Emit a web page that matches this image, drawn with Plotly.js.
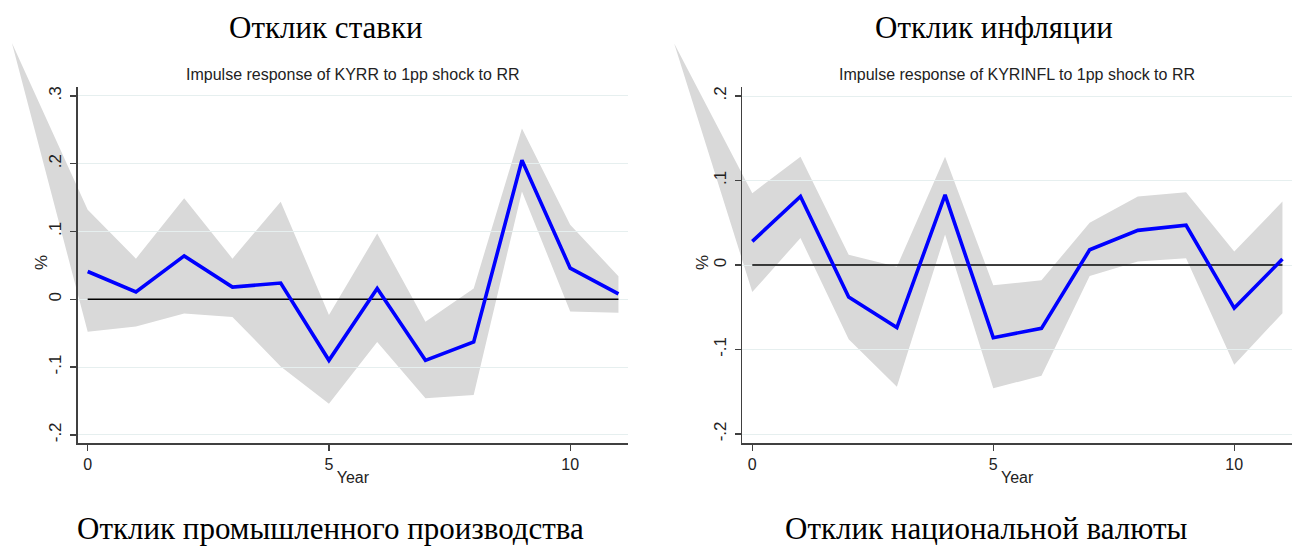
<!DOCTYPE html>
<html>
<head>
<meta charset="utf-8">
<script src="https://cdn.plot.ly/plotly-3.0.1.min.js"></script>
<style>html,body{margin:0;padding:0;background:#fff;}#chart{width:1296px;height:547px;}</style>
</head>
<body>
<div id="chart"></div>
<script>
// ---- data ----
const periods = [0,1,2,3,4,5,6,7,8,9,10,11];

const rrIrf   = [0.041,0.011,0.064,0.018,0.024,-0.090,0.016,-0.090,-0.063,0.205,0.046,0.008];
const rrUpper = [0.132,0.060,0.149,0.060,0.144,-0.023,0.097,-0.033,0.016,0.252,0.110,0.034];
const rrLower = [-0.048,-0.040,-0.021,-0.026,-0.099,-0.154,-0.063,-0.146,-0.141,0.159,-0.018,-0.020];
// stray vertex of the confidence polygon seen in the picture
const rrStrayX = -1.57, rrStrayY = 0.378;

const inflIrf   = [0.028,0.081,-0.038,-0.074,0.083,-0.086,-0.075,0.018,0.041,0.047,-0.051,0.007];
const inflUpper = [0.085,0.128,0.012,-0.002,0.128,-0.024,-0.018,0.050,0.081,0.086,0.016,0.075];
const inflLower = [-0.032,0.032,-0.088,-0.144,0.036,-0.146,-0.131,-0.013,0.004,0.008,-0.118,-0.057];
const inflStrayX = -1.62, inflStrayY = 0.262;

const xTickVals = [0,5,10];
const rrTickVals = [-0.2,-0.1,0,0.1,0.2,0.3];
const rrTickText = ['-.2','-.1','0','.1','.2','.3'];
const inflTickVals = [-0.2,-0.1,0,0.1,0.2];
const inflTickText = ['-.2','-.1','0','.1','.2'];

const panelTitles = ['Отклик ставки','Отклик инфляции'];
const bottomTitles = ['Отклик промышленного производства','Отклик национальной валюты'];
const subTitles = ['Impulse response of KYRR to 1pp shock to RR','Impulse response of KYRINFL to 1pp shock to RR'];

// ---- geometry ----
const W = 1296, H = 547;
const fx = p => p / W, fy = p => 1 - p / H;
const xRange = [-0.207, 11.198];
const rrRange = [-0.2124, 0.3136];
const inflRange = [-0.211, 0.211];
const plotTop = 86.7, plotBot = 443.3;
const leftPlot = [77.7, 628], rightPlot = [742.3, 1292];
const bandLeftStart = [0, 648];

function extRange(range, pxSpan, extLow, extHigh) {
  const per = (pxSpan[1] - pxSpan[0]) / (range[1] - range[0]);
  return [range[0] - extLow / per, range[1] + extHigh / per];
}

const sans = 'Liberation Sans, Arial, sans-serif';
const serif = 'Liberation Serif, Times New Roman, serif';
const axisCol = '#404040';
const bandCol = 'rgb(217,217,217)';

function bandPoly(upper, lower, sx, sy) {
  const xs = periods.concat(periods.slice().reverse(), [sx]);
  const ys = upper.concat(lower.slice().reverse(), [sy]);
  return {xs, ys};
}
const b1 = bandPoly(rrUpper, rrLower, rrStrayX, rrStrayY);
const b2 = bandPoly(inflUpper, inflLower, inflStrayX, inflStrayY);

const traces = [
  {x: b1.xs, y: b1.ys, xaxis:'x', yaxis:'y', type:'scatter', mode:'lines', fill:'toself',
   fillcolor: bandCol, line:{width:0, color: bandCol}, hoverinfo:'skip', showlegend:false},
  {x: [periods[0], periods[periods.length-1]], y:[0,0], xaxis:'x2', yaxis:'y2', mode:'lines',
   line:{color:'#000', width:1.6}, showlegend:false},
  {x: periods, y: rrIrf, xaxis:'x2', yaxis:'y2', mode:'lines',
   line:{color:'#0000ff', width:3.6}, showlegend:false},
  {x: b2.xs, y: b2.ys, xaxis:'x3', yaxis:'y3', type:'scatter', mode:'lines', fill:'toself',
   fillcolor: bandCol, line:{width:0, color: bandCol}, hoverinfo:'skip', showlegend:false},
  {x: [periods[0], periods[periods.length-1]], y:[0,0], xaxis:'x4', yaxis:'y4', mode:'lines',
   line:{color:'#000', width:1.6}, showlegend:false},
  {x: periods, y: inflIrf, xaxis:'x4', yaxis:'y4', mode:'lines',
   line:{color:'#0000ff', width:3.6}, showlegend:false}
];

function mainX(dom) {
  return {domain:[fx(dom[0]), fx(dom[1])], range:xRange, tickvals:xTickVals, ticks:'outside',
    ticklen:6, tickcolor:axisCol, tickwidth:1.3, showline:true, linecolor:axisCol, linewidth:1.5,
    showgrid:false, zeroline:false, tickfont:{family:sans, size:16, color:'#222'},
    title:{text:'Year', font:{family:sans, size:16, color:'#222'}, standoff:0}};
}
function mainY(range, vals, text, anchor) {
  return {domain:[fy(plotBot), fy(plotTop)], range:range, tickvals:vals, ticktext:text,
    ticks:'outside', ticklen:6, tickcolor:axisCol, tickwidth:1.3, tickangle:-90, ticklabelstandoff:2,
    showline:true, linecolor:axisCol, linewidth:1.5, showgrid:true, gridcolor:'#e6efef', gridwidth:1,
    zeroline:false, tickfont:{family:sans, size:17, color:'#222'}, anchor:anchor};
}

const layout = {
  width: W, height: H, margin:{l:0,r:0,t:0,b:0},
  paper_bgcolor:'#fff', plot_bgcolor:'rgba(0,0,0,0)', showlegend:false,
  xaxis: {visible:false, domain:[fx(bandLeftStart[0]), fx(leftPlot[1])],
          range: extRange(xRange, leftPlot, leftPlot[0]-bandLeftStart[0], 0), anchor:'y'},
  yaxis: {visible:false, domain:[fy(plotBot), 1],
          range: extRange(rrRange, [plotTop, plotBot], 0, plotTop), anchor:'x'},
  xaxis2: Object.assign(mainX(leftPlot), {anchor:'y2'}),
  yaxis2: mainY(rrRange, rrTickVals, rrTickText, 'x2'),
  xaxis3: {visible:false, domain:[fx(bandLeftStart[1]), fx(rightPlot[1])],
          range: extRange(xRange, rightPlot, rightPlot[0]-bandLeftStart[1], 0), anchor:'y3'},
  yaxis3: {visible:false, domain:[fy(plotBot), 1],
          range: extRange(inflRange, [plotTop, plotBot], 0, plotTop), anchor:'x3'},
  xaxis4: Object.assign(mainX(rightPlot), {anchor:'y4'}),
  yaxis4: mainY(inflRange, inflTickVals, inflTickText, 'x4'),
  annotations: [
    {text: panelTitles[0], x: fx(326), y: fy(27), xref:'paper', yref:'paper', showarrow:false,
     xanchor:'center', yanchor:'middle', font:{family:serif, size:31, color:'#000'}},
    {text: panelTitles[1], x: fx(994), y: fy(27), xref:'paper', yref:'paper', showarrow:false,
     xanchor:'center', yanchor:'middle', font:{family:serif, size:31, color:'#000'}},
    {text: bottomTitles[0], x: fx(330), y: 0, xref:'paper', yref:'paper', showarrow:false,
     xanchor:'center', yanchor:'bottom', borderpad:0, font:{family:serif, size:31, color:'#000'}},
    {text: bottomTitles[1], x: fx(986), y: 0, xref:'paper', yref:'paper', showarrow:false,
     xanchor:'center', yanchor:'bottom', borderpad:0, font:{family:serif, size:31, color:'#000'}},
    {text: subTitles[0], x: (fx(leftPlot[0])+fx(leftPlot[1]))/2, y: fy(74), xref:'paper', yref:'paper',
     showarrow:false, xanchor:'center', yanchor:'middle', font:{family:sans, size:16, color:'#222'}},
    {text: subTitles[1], x: (fx(rightPlot[0])+fx(rightPlot[1]))/2, y: fy(74), xref:'paper', yref:'paper',
     showarrow:false, xanchor:'center', yanchor:'middle', font:{family:sans, size:16, color:'#222'}},
    {text: '%', x: fx(42), y: fy(263), xref:'paper', yref:'paper', showarrow:false, textangle:-90,
     xanchor:'center', yanchor:'middle', font:{family:sans, size:17, color:'#222'}},
    {text: '%', x: fx(703), y: fy(263), xref:'paper', yref:'paper', showarrow:false, textangle:-90,
     xanchor:'center', yanchor:'middle', font:{family:sans, size:17, color:'#222'}}
  ]
};

Plotly.newPlot('chart', traces, layout, {staticPlot:true, displayModeBar:false});
</script>
</body>
</html>
